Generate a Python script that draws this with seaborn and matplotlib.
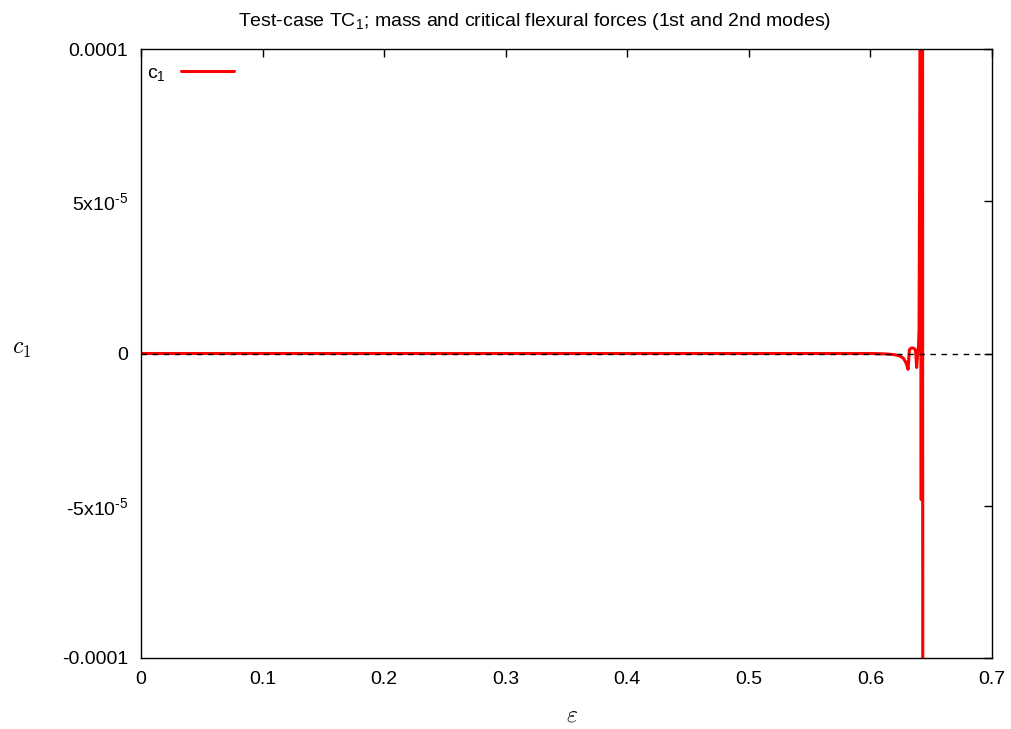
import matplotlib
matplotlib.use("Agg")
import matplotlib.pyplot as plt
import seaborn as sns
import pandas as pd

# c1 against epsilon
eps = [0.0, 0.1, 0.2, 0.3, 0.4, 0.5, 0.58, 0.60, 0.61, 0.615, 0.62, 0.624,
       0.627, 0.629, 0.6305, 0.631, 0.6315, 0.632, 0.6335, 0.635, 0.636, 0.637,
       0.6375, 0.638, 0.6385, 0.639, 0.6395, 0.640, 0.6405, 0.641, 0.6413,
       0.6418, 0.6422, 0.6425, 0.6428, 0.643, 0.6432, 0.6434]
c1 = [0.0, 0.0, 0.0, 0.0, 0.0, 0.0, 0.0, 0.0, -1e-7, -2e-7, -4e-7, -8e-7,
      -1.5e-6, -2.8e-6, -4.5e-6, -5.2e-6, -2e-6, 1.2e-6, 1.8e-6, 1.8e-6, 1.6e-6, 1.2e-6,
      -1e-6, -4.6e-6, -2e-6, 0.5e-6, 2e-6, 8e-6, 6e-5, 1.5e-4, 1.6e-4,
      -4.8e-5, 2.0e-4, -4.7e-5, 2.5e-4, -4.8e-5, -2.5e-4, -3e-4]

zero_x = [0.0, 0.7]
zero_y = [0.0, 0.0]

yticks = [-1e-4, -5e-5, 0, 5e-5, 1e-4]
ytick_labels = ['-0.0001', r'-5x10$^{\text{-5}}$', '0', r'5x10$^{\text{-5}}$', '0.0001']
xticks = [0, 0.1, 0.2, 0.3, 0.4, 0.5, 0.6, 0.7]
xtick_labels = ['0', '0.1', '0.2', '0.3', '0.4', '0.5', '0.6', '0.7']

df = pd.DataFrame({'eps': eps, 'c1': c1})

sns.set_style('white')
plt.rcParams['font.family'] = ['Liberation Sans', 'DejaVu Sans']
plt.rcParams['text.color'] = 'black'
plt.rcParams['mathtext.fontset'] = 'custom'
plt.rcParams['mathtext.rm'] = 'Liberation Sans'
plt.rcParams['mathtext.it'] = 'Liberation Sans'

fig = plt.figure(figsize=(10.12, 7.29), dpi=100)
ax = fig.add_axes([141/1012, 1 - 658/729, (992-141)/1012, (658-49)/729])

sns.lineplot(data=df, x='eps', y='c1', sort=False, estimator=None, color='#ff0000',
             linewidth=2.2, ax=ax, label='c$_1$')
ax.plot(zero_x, zero_y, color='black', linestyle=(0, (4, 4)), linewidth=1.0)

ax.set_xlim(0, 0.7)
ax.set_ylim(-1e-4, 1e-4)
ax.set_xticks(xticks)
ax.set_xticklabels(xtick_labels)
ax.set_yticks(yticks)
ax.set_yticklabels(ytick_labels)
ax.tick_params(direction='in', length=6, width=1, top=True, right=True,
               labelsize=14, colors='black', pad=9)
for s in ax.spines.values():
    s.set_color('black')
    s.set_linewidth(1.0)

ax.set_xlabel('')
ax.set_ylabel('')
fig.text(572/1012, 1 - 716/729, r'$\varepsilon$', math_fontfamily='cm',
         fontsize=17, ha='center', va='center')
fig.text(22/1012, 1 - 349/729, r'$c_1$', math_fontfamily='cm',
         fontsize=17, ha='center', va='center')
fig.text(535/1012, 1 - 22/729,
         'Test-case TC$_1$; mass and critical flexural forces (1st and 2nd modes)',
         fontsize=14, ha='center', va='center')

leg = ax.legend(loc='upper left', bbox_to_anchor=(0, 0.984), markerfirst=False,
                frameon=False, fontsize=14, handlelength=2.7, borderaxespad=0.1,
                borderpad=0.2, handletextpad=0.8)

fig.savefig('out.png', dpi=100)
